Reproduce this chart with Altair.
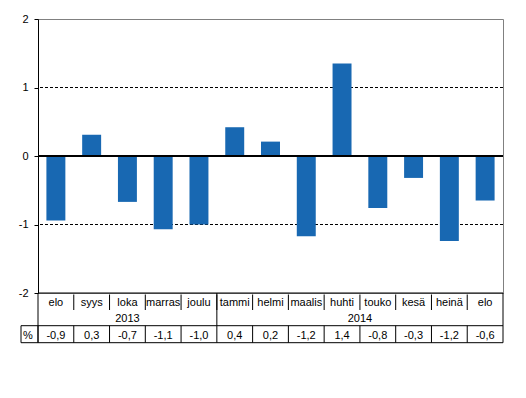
import altair as alt
import pandas as pd

# ---- data ----
months = ["elo", "syys", "loka", "marras", "joulu", "tammi", "helmi",
          "maalis", "huhti", "touko", "kesä", "heinä", "elo"]
years = [2013, 2013, 2013, 2013, 2013, 2014, 2014, 2014, 2014, 2014, 2014, 2014, 2014]
values = [-0.94, 0.31, -0.67, -1.07, -1.00, 0.42, 0.21, -1.17, 1.35, -0.76, -0.32, -1.24, -0.65]
value_labels = ["-0,9", "0,3", "-0,7", "-1,1", "-1,0", "0,4", "0,2",
                "-1,2", "1,4", "-0,8", "-0,3", "-1,2", "-0,6"]
y_ticks = [-2, -1, 0, 1, 2]
dashed_grid = [1, -1]

# ---- tables built from the lists ----
keys = [f"{i:02d}" for i in range(len(months))]
df = pd.DataFrame({
    "key": keys,
    "month": months,
    "year": years,
    "value": values,
    "label": value_labels,
})
df["year_start"] = [i > 0 and years[i] != years[i - 1] for i in range(len(years))]
df["inner"] = [i > 0 for i in range(len(years))]

yr = []
for y in sorted(set(years)):
    idx = [i for i, v in enumerate(years) if v == y]
    yr.append({"year": str(y), "mid": (idx[0] + idx[-1] + 1) / 2})
df_year = pd.DataFrame(yr)
df_grid = pd.DataFrame({"value": dashed_grid})
df_zero = pd.DataFrame({"value": [0]})

W, H = 465, 274
FONT = "Liberation Sans"
BLUE = "#1868b2"

xscale = alt.Scale(domain=keys, paddingInner=0, paddingOuter=0)
yscale = alt.Scale(domain=[-2, 2], nice=False)
yaxis = alt.Axis(values=y_ticks, grid=False, domainColor="black", tickColor="black",
                 tickSize=4, labelFont=FONT, labelFontSize=11, labelColor="black",
                 labelPadding=6, title=None, labelExpr="datum.value + ''")

base = alt.Chart(df)
xband = alt.X("key:N", scale=xscale, axis=None)
xstart = alt.X("key:N", scale=xscale, axis=None, bandPosition=0)

grid = alt.Chart(df_grid).mark_rule(color="black", strokeDash=[3, 2], strokeWidth=1).encode(
    y=alt.Y("value:Q", scale=yscale, axis=yaxis))

bars = base.mark_bar(color=BLUE, width=alt.RelativeBandSize(0.53)).encode(
    x=xband, y=alt.Y("value:Q", scale=yscale, axis=yaxis))

zero = alt.Chart(df_zero).mark_rule(color="black", strokeWidth=2).encode(
    y=alt.Y("value:Q", scale=yscale, axis=yaxis))

# table
Y_TOP, Y_MROW, Y_YROW, Y_BOT = H, H + 17, H + 32.7, H + 49.7

month_text = base.mark_text(font=FONT, fontSize=11, color="black", baseline="alphabetic").encode(
    x=xband, y=alt.value(H + 12.5), text="month:N")

value_text = base.mark_text(font=FONT, fontSize=11, color="black", baseline="alphabetic").encode(
    x=xband, y=alt.value(H + 46), text="label:N")

year_text = alt.Chart(df_year).mark_text(font=FONT, fontSize=11, color="black",
                                         baseline="alphabetic").encode(
    x=alt.X("mid:Q", scale=alt.Scale(domain=[0, len(months)], nice=False, zero=True), axis=None),
    y=alt.value(H + 29), text="year:N")

pct_text = alt.Chart(df_zero).mark_text(font=FONT, fontSize=11, color="black",
                                        baseline="alphabetic", align="left").encode(
    x=alt.value(-15), y=alt.value(H + 46), text=alt.value("%"))

sep_month = base.transform_filter("datum.inner").mark_rule(color="black").encode(
    x=xstart, y=alt.value(Y_TOP + 1.5), y2=alt.value(Y_MROW))
sep_year = base.transform_filter("datum.year_start").mark_rule(color="black").encode(
    x=xstart, y=alt.value(Y_TOP), y2=alt.value(Y_YROW))
sep_value = base.mark_rule(color="black").encode(
    x=xstart, y=alt.value(Y_YROW), y2=alt.value(Y_BOT))

def hline(y, x0):
    return alt.Chart(df_zero).mark_rule(color="black").encode(
        x=alt.value(x0), x2=alt.value(W), y=alt.value(y))

def vline(x, y0, y1):
    return alt.Chart(df_zero).mark_rule(color="black").encode(
        x=alt.value(x), y=alt.value(y0), y2=alt.value(y1))

lines = [hline(Y_TOP, 0), hline(Y_YROW, -17), hline(Y_BOT, -17),
         vline(0, Y_TOP, Y_BOT), vline(W, Y_TOP, Y_BOT), vline(-17, Y_YROW, Y_BOT)]

chart = alt.layer(
    grid, bars, zero, month_text, value_text, year_text, pct_text,
    sep_month, sep_year, sep_value, *lines
).resolve_scale(x="independent").properties(
    width=W, height=H,
    autosize=alt.AutoSizeParams(type="none"),
    padding={"left": 30, "top": 11, "right": 15, "bottom": 70},
).configure_view(stroke="#808080", strokeWidth=1)

chart.save("out.html", embed_options={"renderer": "svg", "actions": False})
